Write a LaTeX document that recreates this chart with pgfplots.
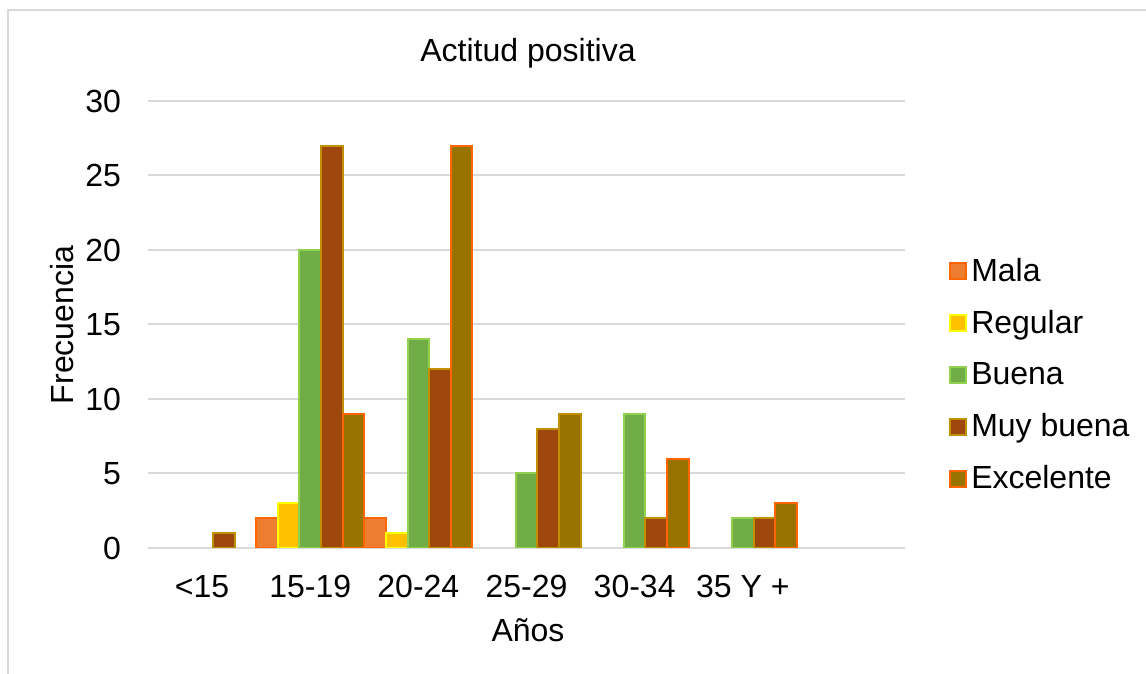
\documentclass[border=0pt]{standalone}
\usepackage{pgfplots}
\pgfplotsset{compat=1.18}
\usepackage{fontspec}
\setmainfont{Liberation Sans}

\definecolor{malaF}{HTML}{ED7D31}
\definecolor{malaD}{HTML}{FF6600}
\definecolor{regF}{HTML}{FFC000}
\definecolor{regD}{HTML}{FFFF00}
\definecolor{buenaF}{HTML}{70AD47}
\definecolor{buenaD}{HTML}{92D050}
\definecolor{muyF}{HTML}{9E480E}
\definecolor{muyD}{HTML}{BF9000}
\definecolor{excF}{HTML}{997300}
\definecolor{excD}{HTML}{FF6600}
\definecolor{gridc}{HTML}{D9D9D9}

\newcommand{\cf}{\fontsize{16}{19}\selectfont}

\begin{document}
\begin{tikzpicture}
\useasboundingbox (0,0) rectangle (573pt,337pt);
\draw[gridc, line width=0.8pt] (4pt,332pt) rectangle (620pt,-20pt);

\begin{axis}[
  at={(74pt,63pt)}, anchor=south west,
  width=378.5pt, height=223.5pt, scale only axis,
  xmin=-0.5, xmax=6.5, ymin=0, ymax=30,
  ybar, bar width=0.2,
  axis line style={draw=none},
  major tick length=0pt,
  xtick={0,1,2,3,4,5},
  xticklabels={<15, 15-19, 20-24, 25-29, 30-34, 35 Y +},
  ytick={0,5,10,15,20,25,30},
  ymajorgrids, grid style={gridc, line width=1pt},
  ticklabel style={font=\cf},
  /pgf/number format/assume math mode=true,
  yticklabel style={xshift=-10pt},
  xticklabel style={yshift=-10pt},
  legend style={draw=none, fill=none, font=\cf, at={(1.05,0.387)}, anchor=west,
    row sep=9pt, legend cell align=left},
  legend image code/.code={\draw[#1, line width=1pt] (0pt,-4pt) rectangle (8pt,4pt);},
]
\addplot[fill=malaF, draw=malaD, line width=1pt, bar shift=-0.4]
  coordinates {(1,2) (2,2)};
\addlegendentry{Mala}
\addplot[fill=regF, draw=regD, line width=1pt, bar shift=-0.2]
  coordinates {(1,3) (2,1)};
\addlegendentry{Regular}
\addplot[fill=buenaF, draw=buenaD, line width=1pt, bar shift=0]
  coordinates {(1,20) (2,14) (3,5) (4,9) (5,2)};
\addlegendentry{Buena}
\addplot[fill=muyF, draw=muyD, line width=1pt, bar shift=0.2]
  coordinates {(0,1) (1,27) (2,12) (3,8) (4,2) (5,2)};
\addlegendentry{Muy buena}
\addplot[fill=excF, draw=excD, line width=1pt, bar shift=0.4]
  coordinates {(1,9) (2,27) (4,6) (5,3)};
\addlegendentry{Excelente}
\addplot[fill=excF, draw=muyD, line width=1pt, bar shift=0.4, forget plot]
  coordinates {(3,9)};
\end{axis}

\node[font=\cf] at (264pt,310.5pt) {Actitud positiva};
\node[font=\cf, rotate=90] at (31pt,174.5pt) {Frecuencia};
\node[font=\cf] at (264pt,22pt) {Años};
\end{tikzpicture}
\end{document}
